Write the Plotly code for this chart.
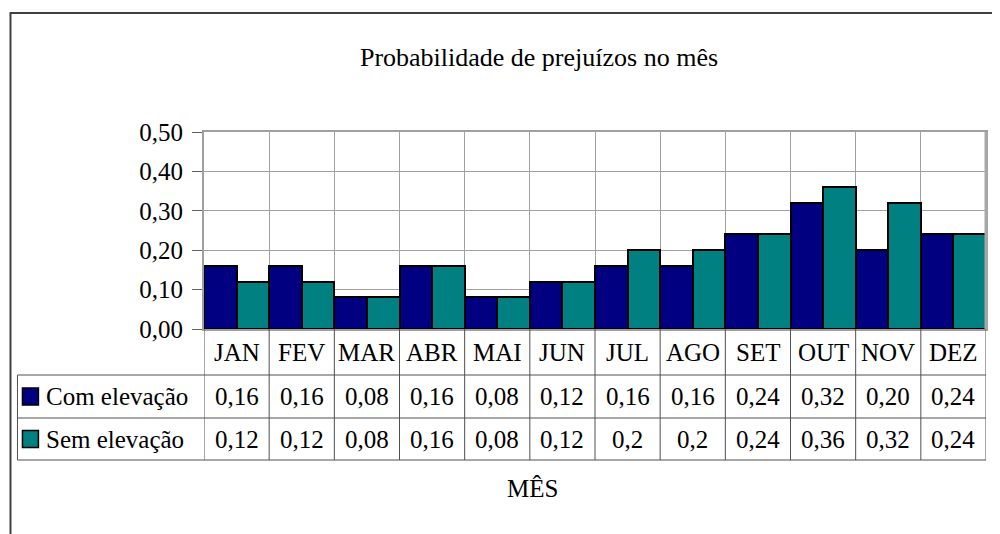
import plotly.graph_objects as go

# Dados
meses = ["JAN", "FEV", "MAR", "ABR", "MAI", "JUN", "JUL", "AGO", "SET", "OUT", "NOV", "DEZ"]
com_elevacao = [0.16, 0.16, 0.08, 0.16, 0.08, 0.12, 0.16, 0.16, 0.24, 0.32, 0.20, 0.24]
sem_elevacao = [0.12, 0.12, 0.08, 0.16, 0.08, 0.12, 0.2, 0.2, 0.24, 0.36, 0.32, 0.24]
series = ["Com elevação", "Sem elevação"]
cores = ["#000080", "#008080"]

FONTE = "Liberation Serif"
OFF = 8  # margem padrao do body da pagina
W, H = 1000 - OFF, 534 - OFF
L, R, T, B = 204, 988, 132, 329  # area do grafico em pixels (na tela)


def px_x(p):
    return (p - L) / (R - L)


def px_y(p):
    return (B - p) / (B - T)


def txt(x, y, texto, xref="paper", xanchor="center"):
    return dict(x=x, y=y, xref=xref, yref="paper", text=texto, showarrow=False,
                xanchor=xanchor, yanchor="middle",
                font=dict(family=FONTE, size=25, color="black"))


fig = go.Figure()
for nome, vals, cor in zip(series, [com_elevacao, sem_elevacao], cores):
    fig.add_trace(go.Bar(
        x=meses, y=vals, name=nome,
        marker=dict(color=cor, line=dict(color="black", width=2)),
        showlegend=False,
    ))

shapes = []
annotations = []

# Moldura externa
shapes.append(dict(type="rect", xref="paper", yref="paper",
                   x0=px_x(10), x1=px_x(1010), y0=px_y(13), y1=px_y(540),
                   line=dict(color="#404040", width=2), layer="below"))

# Borda direita mais grossa da area do grafico
shapes.append(dict(type="line", xref="paper", yref="paper",
                   x0=1, x1=1, y0=0, y1=1,
                   line=dict(color="#a8a8a8", width=3)))

# Tabela de dados
cor_tab = "#505050"
for yy in [375, 418, 460]:
    shapes.append(dict(type="line", xref="paper", yref="paper",
                       x0=px_x(17), x1=px_x(R), y0=px_y(yy), y1=px_y(yy),
                       line=dict(color=cor_tab, width=1)))
shapes.append(dict(type="line", xref="paper", yref="paper",
                   x0=px_x(17), x1=px_x(17), y0=px_y(375), y1=px_y(460),
                   line=dict(color=cor_tab, width=1)))
for k in range(len(meses) + 1):
    shapes.append(dict(type="line", xref="x", yref="paper",
                       x0=k - 0.5, x1=k - 0.5, y0=0, y1=px_y(460),
                       line=dict(color=cor_tab, width=1)))

linha_centros = [352, 396.5, 439]
for i, m in enumerate(meses):
    annotations.append(txt(i, px_y(linha_centros[0]), m, xref="x"))
    annotations.append(txt(i, px_y(linha_centros[1]),
                           f"{com_elevacao[i]:.2f}".replace(".", ","), xref="x"))
    annotations.append(txt(i, px_y(linha_centros[2]),
                           str(sem_elevacao[i]).replace(".", ","), xref="x"))

# Legenda dentro da tabela
for nome, cor, yc in zip(series, cores, linha_centros[1:]):
    shapes.append(dict(type="rect", xref="paper", yref="paper",
                       x0=px_x(22), x1=px_x(38), y0=px_y(yc - 8.5), y1=px_y(yc + 8.5),
                       fillcolor=cor, line=dict(color="black", width=1.5)))
    annotations.append(txt(px_x(44), px_y(yc), nome, xanchor="left"))

# Titulo do eixo X
annotations.append(txt(px_x(533), px_y(488), "MÊS"))

fig.update_layout(
    width=W, height=H,
    margin=dict(l=L - OFF, r=W - (R - OFF), t=T - OFF, b=H - (B - OFF)),
    paper_bgcolor="white", plot_bgcolor="white",
    separators=",.",
    barmode="group", bargap=0, bargroupgap=0,
    title=dict(text="Probabilidade de prejuízos no mês", x=(539 - OFF) / W, xanchor="center",
               y=1 - (57 - OFF) / H, yanchor="middle",
               font=dict(family=FONTE, size=26, color="black")),
    xaxis=dict(
        type="category", tickson="boundaries", showticklabels=False, ticks="",
        showgrid=True, gridcolor="#a0a0a0", gridwidth=1,
        showline=True, linecolor="#a0a0a0", linewidth=2, mirror=True,
        range=[-0.5, 11.5],
    ),
    yaxis=dict(
        range=[0, 0.5], dtick=0.1, tickformat=".2f",
        showgrid=True, gridcolor="#a0a0a0", gridwidth=1,
        showline=True, linecolor="#a0a0a0", linewidth=2, mirror=True,
        ticks="outside", ticklen=10, tickcolor="#606060",
        ticklabelstandoff=4,
        tickfont=dict(family=FONTE, size=25, color="black"),
        zeroline=False,
    ),
    shapes=shapes,
    annotations=annotations,
)

fig.write_html("out.html")
